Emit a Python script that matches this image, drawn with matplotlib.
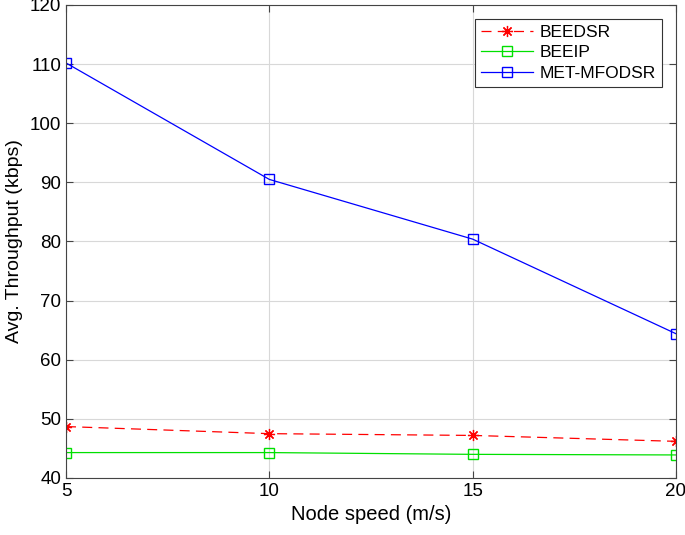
import matplotlib
matplotlib.use("Agg")
import matplotlib.pyplot as plt

plt.rcParams["font.family"] = ["Liberation Sans", "DejaVu Sans"]

node_speed = [5, 10, 15, 20]
beedsr = [48.7, 47.5, 47.2, 46.2]
beeip = [44.3, 44.3, 44.0, 43.9]
met_mfodsr = [110.2, 90.5, 80.4, 64.4]

fig = plt.figure(figsize=(6.85, 5.35), dpi=100)
ax = fig.add_axes([66 / 685, 1 - 478 / 535, (676 - 66) / 685, (478 - 5) / 535])

ax.plot(node_speed, beedsr, color="red", linestyle=(0, (8, 5)), linewidth=0.9,
        marker=(8, 2, 0), markersize=8, markeredgewidth=0.9, label="BEEDSR")
ax.plot(node_speed, beeip, color="#00e000", linewidth=0.9,
        marker="s", markersize=7, markerfacecolor="none", label="BEEIP")
ax.plot(node_speed, met_mfodsr, color="blue", linewidth=0.9,
        marker="s", markersize=7, markerfacecolor="none", label="MET-MFODSR")

ax.set_xlim(5, 20)
ax.set_ylim(40, 120)
ax.set_xticks([5, 10, 15, 20])
ax.set_yticks(range(40, 121, 10))
ax.grid(True, color="#d8d8d8", linewidth=0.8)
ax.set_axisbelow(True)
ax.tick_params(direction="in", top=True, right=True, labelsize=13.5, length=5,
               color="#444444", width=0.8)
for s in ax.spines.values():
    s.set_color("#444444")
    s.set_linewidth(0.8)

ax.set_xlabel("Node speed (m/s)", fontsize=14.5, labelpad=4)
ax.set_ylabel("Avg. Throughput (kbps)", fontsize=14, labelpad=5)

leg = ax.legend(loc="upper right", fontsize=12.5, fancybox=False, framealpha=1,
                edgecolor="#333333", handlelength=3.0, borderaxespad=0.8,
                labelspacing=0.3, handletextpad=0.4, borderpad=0.35)
leg.get_frame().set_linewidth(0.8)

fig.savefig("out.png", dpi=100)
